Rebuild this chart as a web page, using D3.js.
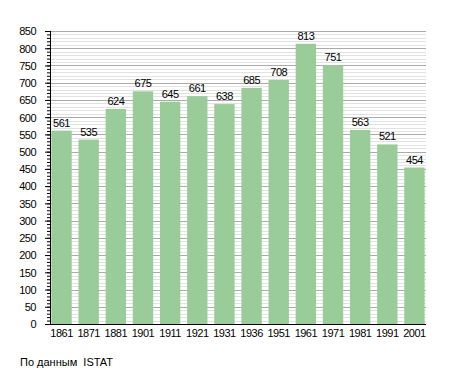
<!DOCTYPE html>
<html>
<head>
<meta charset="utf-8">
<script src="https://cdn.jsdelivr.net/npm/d3@7"></script>
<style>
body { margin: 0; background: #fff; }
text { font-family: "Liberation Sans", Arial, sans-serif; font-size: 11px; letter-spacing: -0.5px; fill: #000; }
</style>
</head>
<body>
<div id="chart-area"></div>
<script>
var years = ['1861', '1871', '1881', '1901', '1911', '1921', '1931', '1936', '1951', '1961', '1971', '1981', '1991', '2001'];
var population = [561, 535, 624, 675, 645, 661, 638, 685, 708, 813, 751, 563, 521, 454];
var yTicks = [0, 50, 100, 150, 200, 250, 300, 350, 400, 450, 500, 550, 600, 650, 700, 750, 800, 850];
var source = 'По данным  ISTAT';

var margin = { top: 31, bottom: 49, left: 50, right: 29 };
var width = 455 - margin.left - margin.right;
var height = 373 - margin.top - margin.bottom;

var svg = d3.select('#chart-area').append('svg')
	.attr('width', 455)
	.attr('height', 373);

var g = svg.append('g').attr('transform', `translate(${margin.left}, ${margin.top})`);

var x = d3.scaleBand().domain(years).range([0, width]).paddingInner(0.25).paddingOuter(0.05);
var y = d3.scaleLinear().domain([0, 850]).range([height, 0]);

// grid lines every 10, darker every 50
var minor = d3.range(0, 851, 10);
g.selectAll('.grid')
	.data(minor)
	.enter().append('line')
		.attr('x1', 0)
		.attr('x2', width)
		.attr('y1', d => Math.round(y(d)) + 0.5)
		.attr('y2', d => Math.round(y(d)) + 0.5)
		.attr('stroke', d => d % 50 == 0 ? '#ababab' : '#e2e2e2')
		.attr('stroke-width', 1);

g.selectAll('rect')
	.data(population)
	.enter().append('rect')
		.attr('x', (d, i) => x(years[i]))
		.attr('y', d => y(d))
		.attr('width', x.bandwidth())
		.attr('height', d => height - y(d))
		.attr('fill', '#99cc99');

g.selectAll('.bar-label')
	.data(population)
	.enter().append('text')
		.attr('class', 'bar-label')
		.attr('x', (d, i) => x(years[i]) + x.bandwidth() / 2)
		.attr('y', d => y(d) - 4)
		.attr('text-anchor', 'middle')
		.text(d => d);

// y axis with minor ticks
var yMinor = g.append('g').attr('class', 'y-minor')
	.call(d3.axisLeft(y).tickValues(minor).tickSize(3).tickFormat(''));
var yAxis = g.append('g').attr('class', 'y-axis')
	.call(d3.axisLeft(y).tickValues(yTicks).tickSize(5).tickPadding(9));
yMinor.selectAll('line').attr('stroke', '#000');
yAxis.selectAll('text').attr('dy', '0.35em');
g.selectAll('.domain').remove();

g.append('line')
	.attr('x1', 0.5).attr('x2', 0.5)
	.attr('y1', 0).attr('y2', height)
	.attr('stroke', '#000');

var xAxis = g.append('g').attr('class', 'x-axis')
	.attr('transform', `translate(0, ${height})`)
	.call(d3.axisBottom(x).tickSize(0).tickPadding(5));
xAxis.select('.domain').remove();
xAxis.selectAll('text').attr('dy', '0.71em');

g.append('line')
	.attr('x1', -5).attr('x2', width)
	.attr('y1', height + 0.5).attr('y2', height + 0.5)
	.attr('stroke', '#000');

svg.selectAll('.tick text').style('font-family', '"Liberation Sans", Arial, sans-serif').style('font-size', '11px');

svg.append('text')
	.attr('x', 20)
	.attr('y', 366)
	.style('white-space', 'pre')
	.style('letter-spacing', '0px')
	.text(source);
</script>
</body>
</html>
